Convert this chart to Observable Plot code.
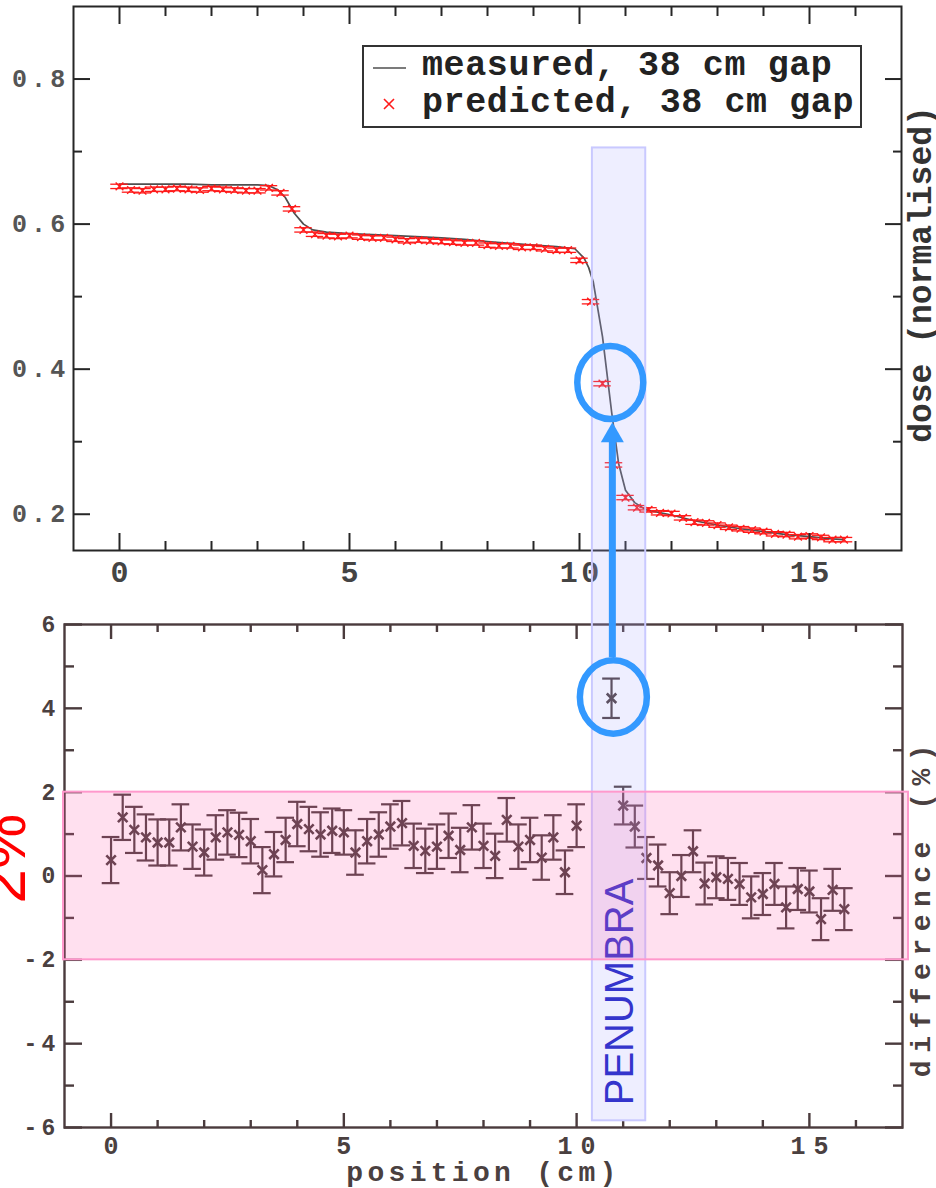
<!DOCTYPE html>
<html><head><meta charset="utf-8">
<script src="https://cdn.jsdelivr.net/npm/d3@7"></script>
<script src="https://cdn.jsdelivr.net/npm/@observablehq/plot@0.6"></script>
<style>
html,body{margin:0;padding:0;background:#fff;}
#wrap{position:relative;width:936px;height:1188px;overflow:hidden;background:#fff;}
#top,#bot{position:absolute;left:0;}
#top{top:0;} #bot{top:600px;}
</style></head><body><div id="wrap"><div id="top"></div><div id="bot"></div></div>
<script>
// ---------- data ----------
const predPos = [0,0.25,0.5,0.75,1,1.25,1.5,1.75,2,2.25,2.5,2.75,3,3.25,3.5,3.75,4,4.25,4.5,4.75,5,5.25,5.5,5.75,6,6.25,6.5,6.75,7,7.25,7.5,7.75,8,8.25,8.5,8.75,9,9.25,9.5,9.75,10,10.25,10.5,10.75,11,11.25,11.5,11.75,12,12.25,12.5,12.75,13,13.25,13.5,13.75,14,14.25,14.5,14.75,15,15.25,15.5,15.75];
const predDose = [0.652,0.647,0.646,0.648,0.648,0.649,0.648,0.647,0.649,0.648,0.647,0.646,0.646,0.650,0.643,0.621,0.592,0.586,0.584,0.583,0.584,0.582,0.581,0.581,0.579,0.577,0.578,0.577,0.576,0.575,0.574,0.574,0.571,0.570,0.570,0.568,0.568,0.566,0.564,0.564,0.550,0.493,0.380,0.268,0.223,0.209,0.206,0.202,0.201,0.195,0.189,0.188,0.185,0.182,0.180,0.178,0.176,0.173,0.172,0.169,0.170,0.168,0.165,0.165];
const predErr = 0.003;

const measPos  = [0,0.5,1,1.5,2,2.5,3,3.25,3.45,3.6,3.8,4.0,4.2,4.5,5,6,7,7.5,8,9,9.5,9.9,10.1,10.2,10.3,10.5,10.7,10.85,11.0,11.2,11.45,12,12.5,13,13.5,14,14.5,15,15.5,15.75];
const measDose = [0.655,0.655,0.655,0.655,0.654,0.654,0.654,0.653,0.647,0.637,0.615,0.600,0.592,0.589,0.587,0.584,0.581,0.579,0.576,0.571,0.569,0.566,0.553,0.540,0.520,0.445,0.340,0.270,0.233,0.216,0.206,0.199,0.191,0.185,0.180,0.176,0.172,0.169,0.166,0.165];

const diffPos = [0,0.25,0.5,0.75,1,1.25,1.5,1.75,2,2.25,2.5,2.75,3,3.25,3.5,3.75,4,4.25,4.5,4.75,5,5.25,5.5,5.75,6,6.25,6.5,6.75,7,7.25,7.5,7.75,8,8.25,8.5,8.75,9,9.25,9.5,9.75,10,10.75,11,11.25,11.5,11.75,12,12.25,12.5,12.75,13,13.25,13.5,13.75,14,14.25,14.5,14.75,15,15.25,15.5,15.75];
const diffVal = [0.38,1.40,1.10,0.92,0.80,0.80,1.16,0.70,0.56,0.92,1.04,0.98,0.83,0.14,0.52,0.86,1.24,1.12,0.99,1.08,1.04,0.56,0.83,0.99,1.18,1.26,0.72,0.60,0.70,0.96,0.62,1.16,0.72,0.48,1.34,0.70,0.86,0.44,0.92,0.09,1.20,4.24,1.68,1.18,0.43,0.25,-0.41,0.00,0.59,-0.18,-0.03,-0.07,-0.19,-0.51,-0.43,-0.19,-0.75,-0.31,-0.37,-1.03,-0.33,-0.79];
const diffErr = [0.55,0.54,0.55,0.55,0.55,0.55,0.55,0.53,0.55,0.53,0.53,0.53,0.53,0.55,0.53,0.53,0.53,0.53,0.53,0.53,0.53,0.53,0.53,0.53,0.53,0.53,0.53,0.53,0.53,0.53,0.53,0.53,0.53,0.53,0.52,0.53,0.53,0.53,0.53,0.52,0.51,0.47,0.45,0.50,0.50,0.50,0.50,0.50,0.50,0.50,0.50,0.50,0.50,0.50,0.50,0.50,0.50,0.50,0.50,0.50,0.50,0.50];

const xMajor = [0,5,10,15];
const xMinor = [1,2,3,4,6,7,8,9,11,12,13,14,16];
const topYMajor = [0.2,0.4,0.6,0.8];
const topYMinor = [0.3,0.5,0.7];
const botYMajor = [-6,-4,-2,0,2,4,6];
const botYMinor = [-5,-3,-1,1,3,5];

const legendLabels = ["measured, 38 cm gap", "predicted, 38 cm gap"];
const topYLabel = "dose (normalised)";
const botYLabel = "difference (%)";
const botXLabel = "position (cm)";

// ---------- styles ----------
const MONO = "'Liberation Mono', 'DejaVu Sans Mono', monospace";
const RED = "#ff1a1a";
const TOPINK = "#262626";
const BOTINK = "#4a3b3d";
const CAP = 0.19;

const pred = predPos.map((x, i) => ({x, y: predDose[i]}));
const meas = measPos.map((x, i) => ({x, y: measDose[i]}));
const diff = diffPos.map((x, i) => ({x, y: diffVal[i], e: diffErr[i]}));

const topPlot = Plot.plot({
  width: 936, height: 600,
  marginLeft: 73, marginRight: 35, marginTop: 6, marginBottom: 50,
  x: {domain: [-1, 17], label: null},
  y: {domain: [0.15, 0.9], label: null},
  style: {fontFamily: MONO, background: "transparent", overflow: "visible"},
  marks: [
    Plot.line(meas, {x: "x", y: "y", stroke: "#4f4f4f", strokeWidth: 1.7}),
    Plot.ruleX(pred, {x: "x", y1: d => d.y - predErr, y2: d => d.y + predErr, stroke: RED, strokeWidth: 1.3}),
    Plot.ruleY(pred, {y: d => d.y - predErr, x1: d => d.x - CAP, x2: d => d.x + CAP, stroke: RED, strokeWidth: 1.3}),
    Plot.ruleY(pred, {y: d => d.y + predErr, x1: d => d.x - CAP, x2: d => d.x + CAP, stroke: RED, strokeWidth: 1.3}),
    Plot.dot(pred, {x: "x", y: "y", symbol: "times", r: 3.6, stroke: RED, strokeWidth: 1.4}),
    Plot.frame({stroke: TOPINK, strokeWidth: 2}),
    Plot.axisX({ticks: xMajor, anchor: "bottom", tickSize: -17, fill: "none", stroke: TOPINK, strokeWidth: 2, label: null}),
    Plot.axisX({ticks: xMinor, anchor: "bottom", tickSize: -9, fill: "none", stroke: TOPINK, strokeWidth: 2, label: null}),
    Plot.axisX({ticks: xMajor, anchor: "top", tickSize: -17, fill: "none", stroke: TOPINK, strokeWidth: 2, label: null}),
    Plot.axisX({ticks: xMinor, anchor: "top", tickSize: -9, fill: "none", stroke: TOPINK, strokeWidth: 2, label: null}),
    Plot.axisY({ticks: topYMajor, anchor: "left", tickSize: -17, fill: "none", stroke: TOPINK, strokeWidth: 2, label: null}),
    Plot.axisY({ticks: topYMinor, anchor: "left", tickSize: -9, fill: "none", stroke: TOPINK, strokeWidth: 2, label: null}),
    Plot.axisY({ticks: topYMajor, anchor: "right", tickSize: -17, fill: "none", stroke: TOPINK, strokeWidth: 2, label: null}),
    Plot.axisY({ticks: topYMinor, anchor: "right", tickSize: -9, fill: "none", stroke: TOPINK, strokeWidth: 2, label: null}),
    Plot.axisX({ticks: xMajor, anchor: "bottom", tickSize: 0, tickPadding: 10, dx: 1.75, tickFormat: d => String(d), fill: "#444", fontSize: 30, fontWeight: "bold", label: null}),
    Plot.axisY({ticks: topYMajor, anchor: "left", tickSize: 0, tickPadding: 4, tickFormat: d3.format(".1f"), fill: "#555", fontSize: 25, fontWeight: "bold", label: null}),
    Plot.text([topYLabel], {text: d => d, frameAnchor: "right", textAnchor: "middle", lineAnchor: "middle", dx: 19, dy: -4, rotate: -90, fontSize: 33, fontWeight: "bold", fill: "#333"})
  ]
});

const botPlot = Plot.plot({
  width: 936, height: 588,
  marginLeft: 64, marginRight: 34, marginTop: 24, marginBottom: 61,
  x: {domain: [-1, 17], label: null},
  y: {domain: [-6, 6], label: null},
  style: {fontFamily: MONO, background: "transparent", overflow: "visible"},
  marks: [
    Plot.ruleX(diff, {x: "x", y1: d => d.y - d.e, y2: d => d.y + d.e, stroke: BOTINK, strokeWidth: 2.2}),
    Plot.ruleY(diff, {y: d => d.y - d.e, x1: d => d.x - CAP, x2: d => d.x + CAP, stroke: BOTINK, strokeWidth: 2.2}),
    Plot.ruleY(diff, {y: d => d.y + d.e, x1: d => d.x - CAP, x2: d => d.x + CAP, stroke: BOTINK, strokeWidth: 2.2}),
    Plot.dot(diff, {x: "x", y: "y", symbol: "times", r: 4.4, stroke: BOTINK, strokeWidth: 2.6}),
    Plot.frame({stroke: BOTINK, strokeWidth: 2.4}),
    Plot.axisX({ticks: xMajor, anchor: "bottom", tickSize: -14, fill: "none", stroke: BOTINK, strokeWidth: 2.4, label: null}),
    Plot.axisX({ticks: xMinor, anchor: "bottom", tickSize: -7, fill: "none", stroke: BOTINK, strokeWidth: 2.4, label: null}),
    Plot.axisX({ticks: xMajor, anchor: "top", tickSize: -14, fill: "none", stroke: BOTINK, strokeWidth: 2.4, label: null}),
    Plot.axisX({ticks: xMinor, anchor: "top", tickSize: -7, fill: "none", stroke: BOTINK, strokeWidth: 2.4, label: null}),
    Plot.axisY({ticks: botYMajor, anchor: "left", tickSize: -18, fill: "none", stroke: BOTINK, strokeWidth: 2.4, label: null}),
    Plot.axisY({ticks: botYMinor, anchor: "left", tickSize: -10, fill: "none", stroke: BOTINK, strokeWidth: 2.4, label: null}),
    Plot.axisY({ticks: botYMajor, anchor: "right", tickSize: -18, fill: "none", stroke: BOTINK, strokeWidth: 2.4, label: null}),
    Plot.axisY({ticks: botYMinor, anchor: "right", tickSize: -10, fill: "none", stroke: BOTINK, strokeWidth: 2.4, label: null}),
    Plot.axisX({ticks: xMajor, anchor: "bottom", tickSize: 0, tickPadding: 9, dx: 4, tickFormat: d => String(d), fill: "#4a4040", fontSize: 25, fontWeight: "bold", label: null}),
    Plot.axisY({ticks: botYMajor, anchor: "left", tickSize: 0, tickPadding: 5, tickFormat: d => String(d), fill: "#4a4040", fontSize: 23, fontWeight: "bold", label: null}),
    Plot.text([botXLabel], {text: d => d, frameAnchor: "bottom", textAnchor: "middle", dy: 53, lineAnchor: "bottom", fontSize: 28, fontWeight: "bold", fill: "#4a4040"}),
    Plot.text([botYLabel], {text: d => d, frameAnchor: "right", textAnchor: "middle", lineAnchor: "middle", dx: 19, dy: 31, rotate: -90, fontSize: 28, fontWeight: "bold", fill: "#4a4040"})
  ]
});

document.getElementById("top").append(topPlot);
document.getElementById("bot").append(botPlot);

// letter spacing tweaks (monospace text in the reference is spaced out)
const ls = (root, sel, v) => d3.select(root).selectAll(sel).attr("letter-spacing", v);
ls(topPlot, 'g[aria-label="x-axis tick label"] text', 3.5);
ls(topPlot, 'g[aria-label="y-axis tick label"] text', 4.2);
ls(botPlot, 'g[aria-label="x-axis tick label"] text', 8);
ls(botPlot, 'g[aria-label="y-axis tick label"] text', 4.2);
d3.select(botPlot).selectAll("text").filter(function(){ return this.textContent === botXLabel; }).attr("letter-spacing", 4.3);
d3.select(botPlot).selectAll("text").filter(function(){ return this.textContent === botYLabel; }).attr("letter-spacing", 7.5);

// ---------- overlay annotations ----------
const tx = topPlot.scale("x"), ty = topPlot.scale("y");
const bx = botPlot.scale("x"), by = botPlot.scale("y");
const OFF = 600;
const ov = d3.select("#wrap").append("svg")
  .attr("width", 936).attr("height", 1188)
  .style("position", "absolute").style("left", 0).style("top", 0);

// legend box (inside the top frame, upper right)
const fr = tx.apply(17), ft = ty.apply(0.9);
const lx = fr - 40 - 498, ly = ft + 40;
const lg = ov.append("g");
lg.append("rect").attr("x", lx).attr("y", ly).attr("width", 498).attr("height", 81)
  .attr("fill", "#fff").attr("stroke", "#333").attr("stroke-width", 2);
lg.append("line").attr("x1", lx + 10).attr("x2", lx + 43).attr("y1", ly + 22).attr("y2", ly + 22)
  .attr("stroke", "#4f4f4f").attr("stroke-width", 1.6);
lg.append("path").attr("d", `M${lx+21},${ly+53}L${lx+31},${ly+63}M${lx+21},${ly+63}L${lx+31},${ly+53}`)
  .attr("stroke", RED).attr("stroke-width", 1.6);
legendLabels.forEach((t, i) => {
  lg.append("text").attr("x", lx + 59).attr("y", ly + 29 + i * 36.5).text(t)
    .attr("font-family", MONO).attr("font-size", 35).attr("font-weight", "bold").attr("fill", "#222")
    .attr("letter-spacing", 0.6);
});

// penumbra band
const px1 = tx.apply(10.28), px2 = tx.apply(11.44);
const py1 = ty.apply(0.705), py2 = OFF + by.apply(-5.84);
ov.append("rect").attr("x", px1).attr("y", py1).attr("width", px2 - px1).attr("height", py2 - py1)
  .attr("fill", "rgba(170,170,255,0.2)").attr("stroke", "#c9c9ff").attr("stroke-width", 2);
ov.append("text")
  .attr("transform", `translate(${(px1 + px2) / 2 + 14},${py2 - 15}) rotate(-90)`)
  .attr("font-family", "'Liberation Sans', Arial, sans-serif").attr("font-size", 40)
  .attr("fill", "#3434cc").text("PENUMBRA");

// ±2% band
const gx1 = bx.apply(-1) - 1, gx2 = bx.apply(17) + 6;
const gy1 = OFF + by.apply(2), gy2 = OFF + by.apply(-2);
ov.append("rect").attr("x", gx1).attr("y", gy1).attr("width", gx2 - gx1).attr("height", gy2 - gy1)
  .attr("fill", "rgba(255,100,175,0.2)").attr("stroke", "#ff99cc").attr("stroke-width", 2);

// "2%" label at the left edge
ov.append("text")
  .attr("transform", `translate(25,${OFF + by.apply(0.4)}) rotate(-90)`)
  .attr("text-anchor", "middle")
  .attr("font-family", "'Liberation Sans', Arial, sans-serif").attr("font-size", 62).attr("font-weight", 300)
  .attr("fill", "#ff0000").text("2%");

// blue circles and arrow
const BLUE = "#3399ff";
const c1x = tx.apply(10.68), c1y = ty.apply(0.381);
const c2x = bx.apply(10.8), c2y = OFF + by.apply(4.26);
ov.append("ellipse").attr("cx", c1x).attr("cy", c1y).attr("rx", 33).attr("ry", 36.5)
  .attr("fill", "none").attr("stroke", BLUE).attr("stroke-width", 6.5);
ov.append("ellipse").attr("cx", c2x).attr("cy", c2y).attr("rx", 33.5).attr("ry", 36.7)
  .attr("fill", "none").attr("stroke", BLUE).attr("stroke-width", 6.5);
const ax = c2x - 1;
const tipY = c1y + 36.5 + 3.2, baseY = tipY + 20, lineBot = c2y - 36.7 - 3;
ov.append("line").attr("x1", ax).attr("x2", ax).attr("y1", lineBot).attr("y2", baseY - 1)
  .attr("stroke", BLUE).attr("stroke-width", 7);
ov.append("path").attr("d", `M${ax},${tipY}L${ax + 11.5},${baseY}L${ax - 11.5},${baseY}Z`).attr("fill", BLUE);
</script></body></html>
